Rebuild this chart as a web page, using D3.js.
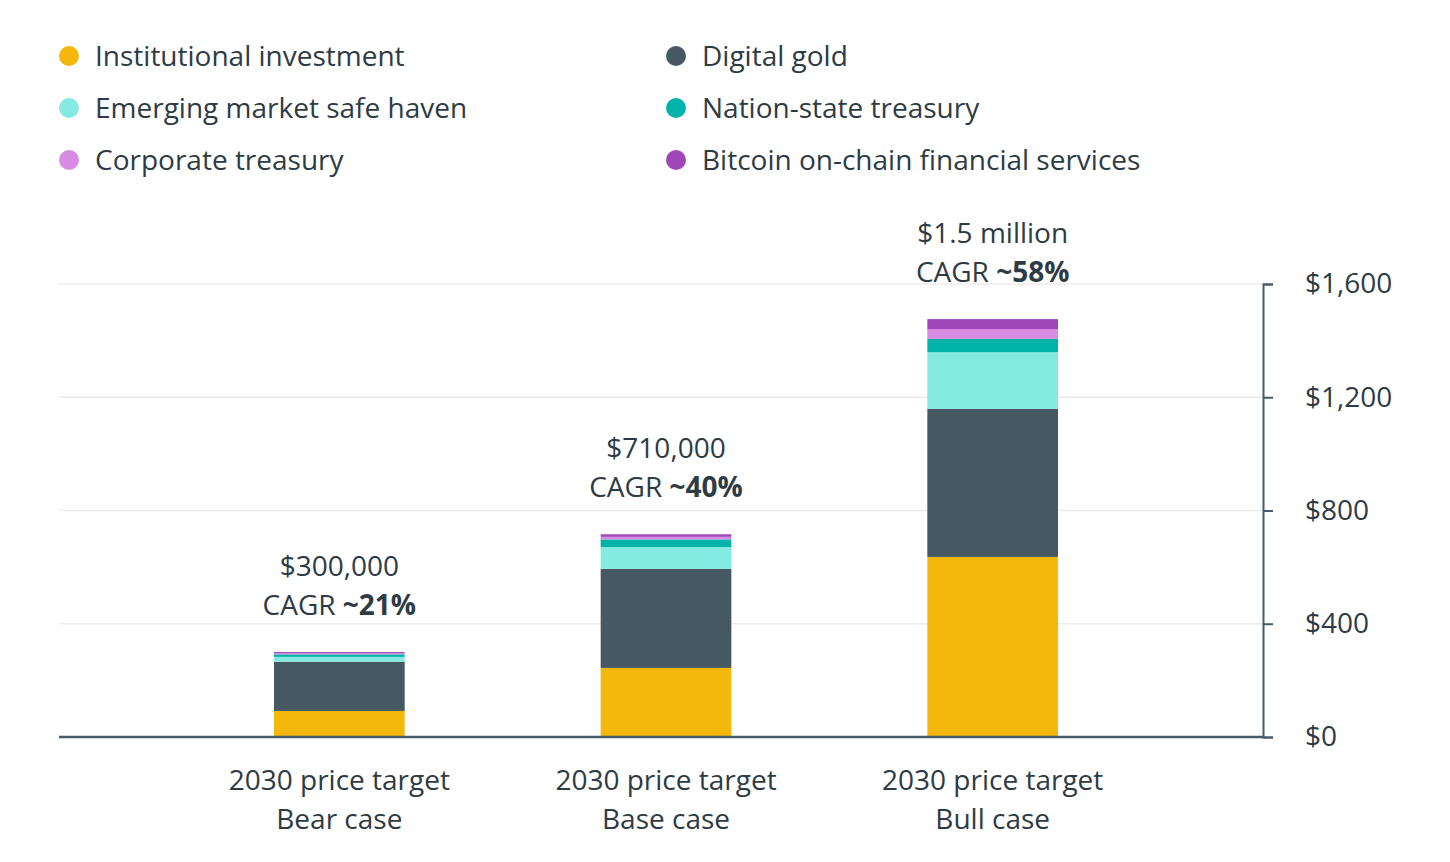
<!DOCTYPE html>
<html>
<head>
<meta charset="utf-8">
<script src="https://cdn.jsdelivr.net/npm/d3@7"></script>
<style>
  body { margin: 0; background: #fff; }
  svg { font-family: "Open Sans", sans-serif; }
</style>
</head>
<body>
<div id="chart"></div>
<script>
// values in $ thousands
var cases = ['Bear case', 'Base case', 'Bull case']
var caseLine1 = '2030 price target'
var priceLabels = ['$300,000', '$710,000', '$1.5 million']
var cagrLabels = ['~21%', '~40%', '~58%']

var seriesNames = [
  'Institutional investment',
  'Digital gold',
  'Emerging market safe haven',
  'Nation-state treasury',
  'Corporate treasury',
  'Bitcoin on-chain financial services'
]
var institutional = [92, 244, 636]
var digitalGold = [174, 350, 523]
var emerging = [17, 77, 200]
var nationState = [9, 27, 47]
var corporate = [4, 9, 35]
var onchain = [4, 9, 35]

var yTicks = [0, 400, 800, 1200, 1600]

var colors = ['#f4b70c', '#465862', '#84eae2', '#00b3a8', '#d78be2', '#9f46b8']
var textColor = '#2e3b44'
var axisColor = '#4a5a66'

var seriesValues = [institutional, digitalGold, emerging, nationState, corporate, onchain]
var rows = cases.map(function(c, i){
  var r = {name: c}
  seriesNames.forEach(function(s, j){ r[s] = seriesValues[j][i] })
  return r
})

var W = 1450, H = 862
var svg = d3.select('#chart').append('svg')
  .attr('width', W)
  .attr('height', H)

var x = d3.scaleBand()
  .domain(cases)
  .range([176, 1156])
  .paddingInner(0.6)
  .paddingOuter(0.3)

var y = d3.scaleLinear()
  .domain([0, 1600])
  .range([737, 284])

// gridlines
svg.append('g')
  .selectAll('line')
  .data(yTicks.slice(1))
  .enter()
  .append('line')
  .attr('x1', 59)
  .attr('x2', 1263)
  .attr('y1', d => y(d))
  .attr('y2', d => y(d))
  .attr('stroke', '#ececec')
  .attr('stroke-width', 1.5)

var stack = d3.stack().keys(seriesNames)
var layers = stack(rows)

svg.append('g')
  .selectAll('g')
  .data(layers)
  .enter()
  .append('g')
  .attr('fill', (d, i) => colors[i])
  .selectAll('rect')
  .data(d => d)
  .enter()
  .append('rect')
  .attr('x', d => x(d.data.name))
  .attr('width', x.bandwidth())
  .attr('y', d => y(d[1]))
  .attr('height', d => y(d[0]) - y(d[1]))

// right axis
var yAxis = d3.axisRight(y)
  .tickValues(yTicks)
  .tickSize(10)
  .tickPadding(32)
  .tickFormat(d => '$' + d3.format(',')(d))

var ax = svg.append('g')
  .attr('transform', 'translate(1263,0)')
  .call(yAxis)
ax.select('.domain').attr('stroke', axisColor).attr('stroke-width', 2)
ax.selectAll('.tick line').attr('stroke', axisColor).attr('stroke-width', 2)
ax.selectAll('.tick text')
  .attr('fill', textColor)
  .style('font-size', '28px')
  .style('font-family', '"Open Sans", sans-serif')

// baseline
svg.append('line')
  .attr('x1', 59)
  .attr('x2', 1263)
  .attr('y1', y(0))
  .attr('y2', y(0))
  .attr('stroke', axisColor)
  .attr('stroke-width', 2.5)

// totals above bars
var totals = rows.map(r => d3.sum(seriesNames, s => r[s]))
var ann = svg.append('g')
  .selectAll('g')
  .data(cases)
  .enter()
  .append('g')
  .attr('transform', (d, i) => `translate(${x(d) + x.bandwidth() / 2},${y(totals[i])})`)
ann.append('text')
  .attr('y', -76)
  .attr('text-anchor', 'middle')
  .attr('fill', textColor)
  .style('font-size', '28px')
  .text((d, i) => priceLabels[i])
var cagr = ann.append('text')
  .attr('y', -37)
  .attr('text-anchor', 'middle')
  .attr('fill', textColor)
  .style('font-size', '28px')
cagr.append('tspan').text('CAGR ')
cagr.append('tspan').style('font-weight', 'bold').text((d, i) => cagrLabels[i])

// category labels
var cat = svg.append('g')
  .selectAll('text')
  .data(cases)
  .enter()
  .append('text')
  .attr('text-anchor', 'middle')
  .attr('fill', textColor)
  .style('font-size', '28px')
  .attr('transform', d => `translate(${x(d) + x.bandwidth() / 2},0)`)
cat.append('tspan').attr('x', 0).attr('y', 790).text(caseLine1)
cat.append('tspan').attr('x', 0).attr('y', 829).text(d => d)

// legend, two columns of three
var legendOrder = [0, 2, 4, 1, 3, 5]
var legend = svg.append('g')
  .selectAll('g')
  .data(legendOrder)
  .enter()
  .append('g')
  .attr('transform', (d, i) => `translate(${i < 3 ? 69 : 676},${56 + (i % 3) * 52})`)
legend.append('circle')
  .attr('r', 10)
  .attr('fill', d => colors[d])
legend.append('text')
  .attr('x', 26)
  .attr('dy', '0.37em')
  .attr('fill', textColor)
  .style('font-size', '28px')
  .text(d => seriesNames[d])
</script>
</body>
</html>
